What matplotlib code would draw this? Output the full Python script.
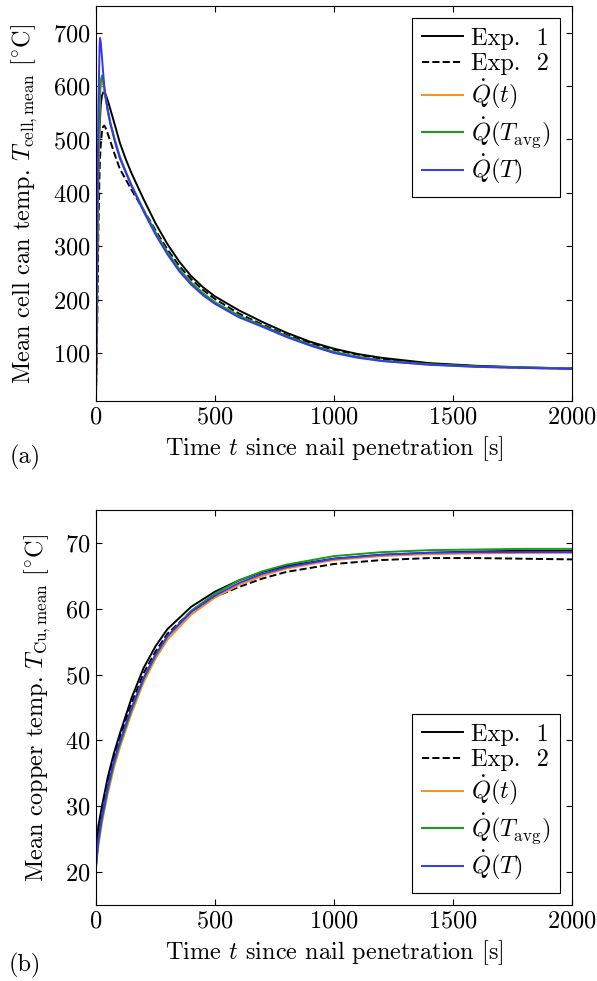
import matplotlib
matplotlib.use("Agg")
import matplotlib.pyplot as plt

plt.rcParams["font.family"] = "serif"
plt.rcParams["font.serif"] = ["cmr10"]
plt.rcParams["mathtext.fontset"] = "cm"
plt.rcParams["axes.formatter.use_mathtext"] = True
plt.rcParams["font.size"] = 17.5

# (a) mean cell can temperature [degC] vs time [s]
t_cell = [0, 5, 10, 15, 17, 20, 25, 30, 35, 40, 50, 60, 80, 100, 125, 150, 200, 250,
          300, 350, 400, 450, 500, 600, 700, 800, 900, 1000, 1100, 1200, 1400, 1600,
          1800, 2000]
cell_exp1 = [20, 250, 430, 520, 540, 565, 582, 588, 588, 585, 572, 557, 526, 494, 463,
             436, 388, 343, 304, 271, 244, 223, 206, 180, 158, 138, 121, 108, 98, 91, 81,
             76, 73, 71]
cell_exp2 = [20, 150, 330, 440, 465, 490, 515, 524, 526, 522, 510, 497, 470, 445, 425,
             405, 368, 330, 294, 263, 238, 218, 201, 174, 153, 134, 118, 106, 97, 89, 80,
             75, 72, 71]
cell_qt = [20, 260, 440, 550, 580, 600, 612, 605, 592, 578, 553, 531, 497, 467, 439,
           413, 367, 325, 288, 256, 231, 211, 194, 169, 150, 131, 114, 101, 92, 85, 78,
           74, 72, 70.5]
cell_qtavg = [95, 300, 470, 570, 595, 610, 620, 610, 595, 580, 555, 532, 498, 468, 440,
              414, 368, 326, 289, 257, 232, 212, 195, 170, 151, 132, 116, 102, 93, 86, 79,
              75, 73, 71]
cell_qT = [20, 330, 560, 675, 690, 682, 655, 625, 600, 580, 552, 530, 495, 465, 438,
           412, 365, 322, 285, 253, 228, 208, 192, 167, 149, 130, 114, 100, 91, 85, 78,
           74, 72, 70]

# (b) mean copper temperature [degC] vs time [s]
t_cu = [0, 10, 25, 50, 75, 100, 150, 200, 250, 300, 400, 500, 600, 700, 800, 1000,
        1200, 1400, 1600, 1800, 2000]
cu_exp1 = [20.8, 27.0, 30.0, 34.5, 38.0, 41.0, 46.5, 51.0, 54.3, 56.9, 60.3, 62.6, 64.3,
           65.6, 66.5, 67.6, 68.2, 68.5, 68.7, 68.8, 68.8]
cu_exp2 = [21.5, 26.5, 29.5, 34.0, 37.5, 40.4, 45.7, 50.2, 53.5, 56.2, 59.6, 61.8, 63.3,
           64.6, 65.6, 66.8, 67.4, 67.7, 67.7, 67.6, 67.5]
cu_qt = [21.0, 24.0, 27.5, 32.0, 35.8, 38.9, 44.2, 48.8, 52.4, 55.3, 59.1, 61.7, 63.6,
         65.0, 66.1, 67.4, 68.0, 68.3, 68.4, 68.5, 68.5]
cu_qtavg = [21.0, 24.5, 28.0, 32.5, 36.4, 39.4, 44.7, 49.3, 52.9, 55.8, 59.7, 62.3, 64.3,
            65.7, 66.7, 68.0, 68.6, 68.9, 69.0, 69.1, 69.1]
cu_qT = [21.0, 25.0, 28.5, 33.0, 36.8, 39.8, 45.0, 49.5, 53.0, 55.8, 59.5, 62.0, 63.9,
         65.3, 66.3, 67.6, 68.2, 68.5, 68.6, 68.6, 68.6]

labels = ["Exp.  1", "Exp.  2", r"$\dot{Q}(t)$", r"$\dot{Q}(T_{\mathrm{avg}})$",
          r"$\dot{Q}(T)$"]
colors = ["black", "black", "#ff8c1a", "#139e13", "#3535ff"]
styles = ["-", "--", "-", "-", "-"]

fig = plt.figure(figsize=(5.97, 9.81), dpi=100)
ax1 = fig.add_axes([0.1608, 0.5912, 0.7973, 0.4027])
ax2 = fig.add_axes([0.1608, 0.0775, 0.7973, 0.4026])


def draw(ax, t, series, ylim, yticks, ylabel, loc):
    for y, c, ls, lab in zip(series, colors, styles, labels):
        ax.plot(t, y, color=c, ls=ls, lw=1.4, label=lab)
    ax.set_xlim(0, 2000)
    ax.set_ylim(*ylim)
    ax.set_xticks([0, 500, 1000, 1500, 2000])
    ax.set_yticks(yticks)
    ax.tick_params(direction="in", top=True, right=True, length=4, width=0.8,
                   labelsize=17.5, pad=4)
    ax.set_xlabel(r"Time $t$ since nail penetration [s]", fontsize=17.5, labelpad=4)
    ax.set_ylabel(ylabel, fontsize=17.5, labelpad=9)
    leg = ax.legend(loc=loc, fontsize=17.5, fancybox=False, edgecolor="black",
                    framealpha=1, handlelength=1.7, labelspacing=0.13,
                    borderaxespad=0.5, handletextpad=0.3, borderpad=0.4)
    leg.get_frame().set_linewidth(0.8)


draw(ax1, t_cell, [cell_exp1, cell_exp2, cell_qt, cell_qtavg, cell_qT], (10, 750),
     [100, 200, 300, 400, 500, 600, 700],
     r"Mean cell can temp. $T_{\mathrm{cell,mean}}$ [$^{\circ}$C]", "upper right")
draw(ax2, t_cu, [cu_exp1, cu_exp2, cu_qt, cu_qtavg, cu_qT], (15, 75),
     [20, 30, 40, 50, 60, 70],
     r"Mean copper temp. $T_{\mathrm{Cu,mean}}$ [$^{\circ}$C]", "lower right")

fig.text(25 / 597, 1 - 457 / 981, "(a)", ha="center", va="center", fontsize=17.5)
fig.text(25 / 597, 1 - 965 / 981, "(b)", ha="center", va="center", fontsize=17.5)

fig.savefig("out.png", dpi=100)
